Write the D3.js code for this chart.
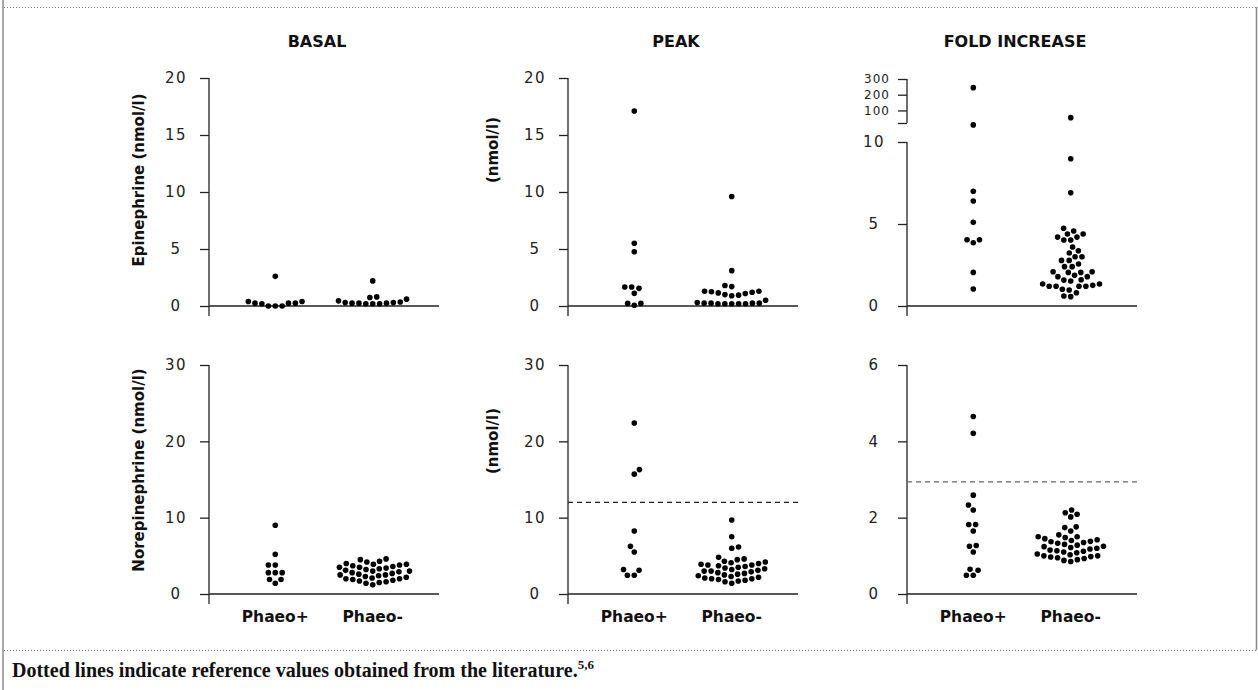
<!DOCTYPE html>
<html><head><meta charset="utf-8">
<script src="https://cdn.jsdelivr.net/npm/d3@7"></script>
<style>
body{margin:0;background:#fff;}
svg{display:block;}
</style></head><body>
<svg id="chart" width="1258" height="690"></svg>
<script>
// ---------------- data ----------------
const groups = ["Phaeo+", "Phaeo-"];
const columnTitles = ["BASAL", "PEAK", "FOLD INCREASE"];
const rowAxisTitles = [["Epinephrine (nmol/l)", "(nmol/l)", ""], ["Norepinephrine (nmol/l)", "(nmol/l)", ""]];

const epiBasalPos = [2.6, 0.4, 0.25, 0.25, 0, 0, 0, 0.2, 0.25, 0.4];
const epiBasalNeg = [2.2, 0.8, 0.75, 0.6, 0.45, 0.35, 0.3, 0.3, 0.25, 0.25, 0.25, 0.2, 0.2, 0.2];
const epiPeakPos = [17.1, 5.5, 4.76, 1.67, 1.55, 1.11, 1.67, 0.23, 0.06, 0.23];
const epiPeakNeg = [9.6, 3.1, 1.8, 1.7, 1.3, 1.25, 1.2, 1.15, 1.1, 1.0, 0.95, 0.9, 1.3, 0.5, 0.3, 0.25, 0.25, 0.25, 0.25, 0.2, 0.2, 0.2, 0.2, 0.2];
const epiFoldPos = [245, 19, 7.0, 6.4, 5.1, 4.04, 3.86, 4.04, 2.05, 1.04];
const epiFoldNeg = [54, 8.98, 6.9, 4.74, 4.57, 4.2, 4.2, 4.02, 4.02, 4.39, 4.39, 3.6, 3.37, 3.23, 3.0, 2.78, 2.56, 2.78, 3.0, 2.4, 2.4, 2.09, 2.05, 2.05, 2.09, 1.79, 1.58, 1.52, 1.6, 1.79, 1.87, 1.34, 1.2, 1.2, 0.98, 1.02, 1.2, 1.2, 1.26, 1.34, 0.81, 0.57, 0.61];

const neBasalPos = [9.0, 5.2, 3.8, 3.8, 2.8, 2.8, 2.8, 1.9, 1.9, 1.4];
const neBasalNeg = [4.6, 4.5, 4.3, 4.2, 4.0, 3.9, 3.9, 3.8, 3.7, 3.6, 3.5, 3.5, 3.4, 3.3, 3.2, 3.1, 3.0, 3.0, 2.9, 2.8, 2.7, 2.6, 2.5, 2.5, 2.4, 2.3, 2.2, 2.1, 2.0, 2.0, 1.9, 1.8, 1.7, 1.6, 1.5, 1.4, 1.2];
const nePeakPos = [22.4, 16.3, 15.7, 8.25, 6.25, 5.5, 3.1, 2.45, 2.45, 3.2];
const nePeakNeg = [9.7, 7.5, 6.15, 6.0, 4.8, 4.6, 4.5, 4.3, 4.2, 4.1, 4.0, 3.9, 3.8, 3.8, 3.7, 3.6, 3.5, 3.4, 3.3, 3.2, 3.1, 3.0, 3.0, 2.9, 2.8, 2.7, 2.6, 2.5, 2.4, 2.3, 2.2, 2.1, 2.0, 2.0, 1.9, 1.8, 1.7, 1.6, 1.4];
const neFoldPos = [4.65, 4.21, 2.59, 2.2, 2.33, 1.82, 1.82, 1.65, 1.25, 1.27, 1.1, 0.62, 0.49, 0.49, 0.65];
const neFoldNeg = [2.2, 2.13, 2.09, 2.02, 1.76, 1.74, 1.65, 1.55, 1.5, 1.5, 1.48, 1.45, 1.42, 1.4, 1.38, 1.37, 1.35, 1.33, 1.3, 1.28, 1.25, 1.24, 1.22, 1.2, 1.18, 1.15, 1.13, 1.12, 1.1, 1.08, 1.05, 1.03, 1.0, 1.0, 0.98, 0.97, 0.95, 0.93, 0.9, 0.88, 0.85];

const epiTicks = [0, 5, 10, 15, 20];
const neTicks = [0, 10, 20, 30];
const foldEpiLowTicks = [0, 5, 10];
const foldEpiHighTicks = [20, 100, 200, 300];
const foldEpiHighLabels = ["", "100", "200", "300"];
const foldNeTicks = [0, 2, 4, 6];
const refNePeak = 12.0;
const refNeFold = 2.94;
const captionText = "Dotted lines indicate reference values obtained from the literature.";
const captionRefs = "5,6";

// ---------------- layout ----------------
const svg = d3.select("#chart");
const W = 1258, H = 690;
const panelX = [209, 568, 907];
const panelW = 230;
const rowsY = [{top: 78, bottom: 306}, {top: 365, bottom: 594}];
const R = 2.8, DIST = 6.9;
const sansB = "'DejaVu Sans', sans-serif";

// frame
svg.append("line").attr("x1", 3).attr("x2", 3).attr("y1", 0).attr("y2", H).attr("stroke", "#8a8a8a").attr("stroke-width", 1.5);
svg.append("line").attr("x1", 1256.5).attr("x2", 1256.5).attr("y1", 7).attr("y2", 650).attr("stroke", "#8a8a8a").attr("stroke-width", 1.5);
[7, 650].forEach(y => svg.append("line").attr("x1", 4).attr("x2", 1257).attr("y1", y + 0.5).attr("y2", y + 0.5)
  .attr("stroke", "#777").attr("stroke-width", 1).attr("stroke-dasharray", "1,2"));

const x = d3.scalePoint().domain(groups).range([0, panelW]).padding(0.68);

const yEpi = d3.scaleLinear().domain([0, 20]).range([rowsY[0].bottom, rowsY[0].top]);
const yNe = d3.scaleLinear().domain([0, 30]).range([rowsY[1].bottom, rowsY[1].top]);
const yFoldEpi = d3.scaleLinear().domain([0, 10, 20, 300]).range([306, 142, 123, 79]);
const yFoldNe = d3.scaleLinear().domain([0, 6]).range([rowsY[1].bottom, rowsY[1].top]);

const panels = [
  {col: 0, row: 0, y: yEpi, ticks: epiTicks, data: [epiBasalPos, epiBasalNeg]},
  {col: 1, row: 0, y: yEpi, ticks: epiTicks, data: [epiPeakPos, epiPeakNeg]},
  {col: 2, row: 0, y: yFoldEpi, ticks: foldEpiLowTicks, data: [epiFoldPos, epiFoldNeg], broken: true},
  {col: 0, row: 1, y: yNe, ticks: neTicks, data: [neBasalPos, neBasalNeg]},
  {col: 1, row: 1, y: yNe, ticks: neTicks, data: [nePeakPos, nePeakNeg], ref: refNePeak, refColor: "#222"},
  {col: 2, row: 1, y: yFoldNe, ticks: foldNeTicks, data: [neFoldPos, neFoldNeg], ref: refNeFold, refColor: "#666"}
];

function dodge(values, yScale) {
  const pts = values.map(v => ({v, y: yScale(v), x: 0})).sort((a, b) => b.y - a.y);
  const placed = [];
  pts.forEach((p, i) => {
    const cands = [0];
    placed.forEach(q => {
      const dy = Math.abs(p.y - q.y);
      if (dy < DIST) {
        const dx = Math.sqrt(DIST * DIST - dy * dy);
        cands.push(q.x + dx, q.x - dx);
      }
    });
    const side = (i % 2) ? 1 : -1;
    cands.sort((a, b) => Math.abs(a) - Math.abs(b) || (a - b) * side);
    for (const c of cands) {
      if (placed.every(q => (c - q.x) ** 2 + (p.y - q.y) ** 2 >= DIST * DIST - 1e-3)) { p.x = c; break; }
    }
    placed.push(p);
  });
  return pts;
}

panels.forEach(pn => {
  const x0 = panelX[pn.col];
  const {top, bottom} = rowsY[pn.row];
  const g = svg.append("g").attr("transform", `translate(${x0},0)`);
  const axisColor = "#222";

  // y axis
  const ax = d3.axisLeft(pn.y).tickValues(pn.ticks).tickSize(9).tickSizeOuter(0).tickFormat(d3.format("d"));
  const ag = g.append("g").call(ax);
  ag.select(".domain").remove();
  ag.selectAll(".tick line").attr("stroke", axisColor).attr("stroke-width", 1.3);
  ag.selectAll(".tick text").attr("x", -33).attr("text-anchor", "middle")
    .style("font-family", sansB).style("font-size", "15px").style("letter-spacing", "1.5px").attr("fill", "#222");

  const domTop = pn.broken ? pn.y(10) : top;
  g.append("line").attr("x1", 0).attr("x2", 0).attr("y1", domTop).attr("y2", bottom + 10)
    .attr("stroke", axisColor).attr("stroke-width", 1.3);

  if (pn.broken) {
    const ax2 = d3.axisLeft(pn.y).tickValues(foldEpiHighTicks).tickSize(9).tickSizeOuter(0)
      .tickFormat((d, i) => foldEpiHighLabels[i]);
    const ag2 = g.append("g").call(ax2);
    ag2.select(".domain").remove();
    ag2.selectAll(".tick line").attr("stroke", axisColor).attr("stroke-width", 1.3);
    ag2.selectAll(".tick text").attr("x", -30).attr("text-anchor", "middle")
      .style("font-family", sansB).style("font-size", "12px").style("letter-spacing", "1px").attr("fill", "#222");
    g.append("line").attr("x1", 0).attr("x2", 0).attr("y1", pn.y(300)).attr("y2", pn.y(20))
      .attr("stroke", axisColor).attr("stroke-width", 1.3);
  }

  // x axis line
  g.append("line").attr("x1", 0).attr("x2", panelW).attr("y1", pn.y(0)).attr("y2", pn.y(0))
    .attr("stroke", axisColor).attr("stroke-width", 1.3);

  // reference line
  if (pn.ref !== undefined) {
    g.append("line").attr("x1", 0).attr("x2", panelW).attr("y1", pn.y(pn.ref)).attr("y2", pn.y(pn.ref))
      .attr("stroke", pn.refColor).attr("stroke-width", 1.2).attr("stroke-dasharray", "5,4");
  }

  // points
  groups.forEach((grp, gi) => {
    const pts = dodge(pn.data[gi], pn.y);
    g.append("g").selectAll("circle").data(pts).join("circle")
      .attr("cx", d => x(grp) + d.x).attr("cy", d => d.y).attr("r", R).attr("fill", "#000");
  });

  // column title
  if (pn.row === 0) {
    svg.append("text").attr("x", x0 + panelW / 2 - 7).attr("y", 47).attr("text-anchor", "middle")
      .style("font-family", sansB).style("font-weight", "bold").style("font-size", "16px")
      .attr("fill", "#111").text(columnTitles[pn.col]);
  }
  // group labels
  if (pn.row === 1) {
    groups.forEach(grp => {
      svg.append("text").attr("x", x0 + x(grp)).attr("y", 622).attr("text-anchor", "middle")
        .style("font-family", sansB).style("font-weight", "bold").style("font-size", "15.5px")
        .attr("fill", "#111").text(grp);
    });
  }
});

// axis titles
const titlePos = [[{x: 139, y: 180}, {x: 493, y: 150}], [{x: 139, y: 470}, {x: 493, y: 441}]];
[0, 1].forEach(r => [0, 1].forEach(c => {
  const p = titlePos[r][c];
  svg.append("text").attr("transform", `translate(${p.x},${p.y}) rotate(-90)`).attr("dy", "0.35em")
    .attr("text-anchor", "middle").style("font-family", sansB).style("font-weight", "bold")
    .style("font-size", "15px").attr("fill", "#111").text(rowAxisTitles[r][c]);
}));

// caption
const cap = svg.append("text").attr("x", 12).attr("y", 677)
  .style("font-family", "'Liberation Serif', serif").style("font-weight", "bold").style("font-size", "20px").attr("fill", "#111");
cap.append("tspan").text(captionText);
cap.append("tspan").attr("dy", -8).style("font-size", "13px").text(captionRefs);
</script>
</body></html>
